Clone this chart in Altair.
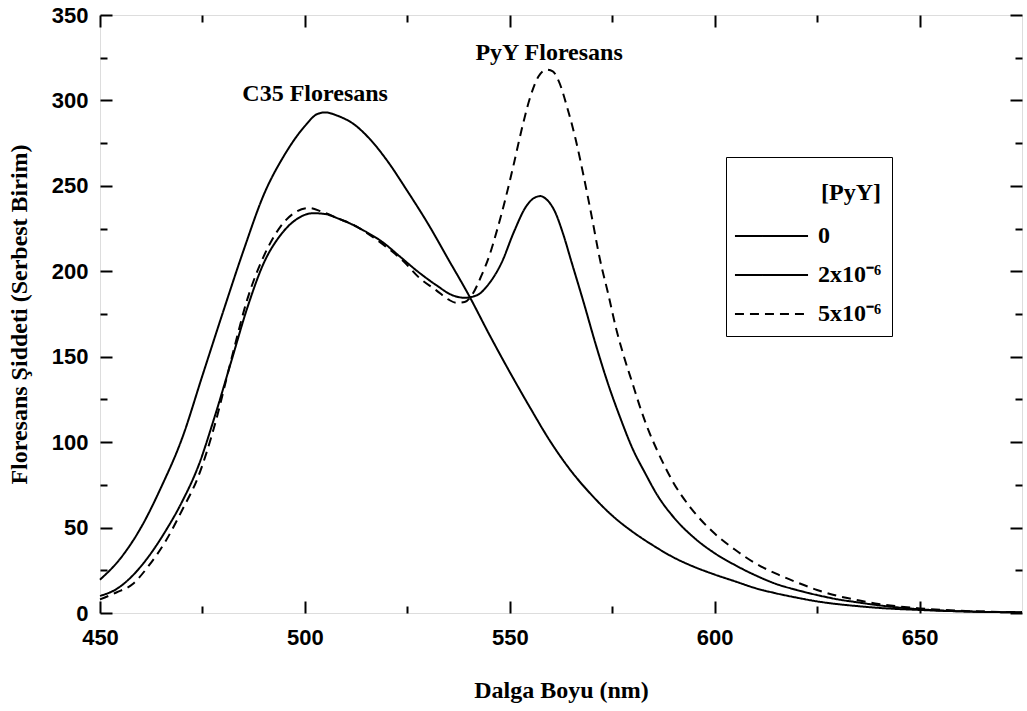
import altair as alt
import pandas as pd

# ---- data ----
nm_0 = [450, 455, 460, 465, 470, 475, 480, 485, 490, 495, 500, 503, 505, 508, 512, 516,
        520, 525, 530, 535, 540, 545, 550, 555, 560, 565, 570, 575, 580, 585, 590, 595,
        600, 605, 610, 615, 620, 625, 630, 635, 640, 645, 650, 655, 660, 665, 670, 675]
val_0 = [19.5, 32, 50, 74, 102, 139, 176, 212, 245, 268, 285, 292, 293, 291, 286, 277,
         265, 247, 228, 207, 186, 163, 141, 120, 100, 83, 69, 57, 47.5, 39.5, 32.5, 27,
         22.5, 18.5, 14.5, 11.5, 9, 6.8, 5.2, 4, 3, 2.3, 1.8, 1.3, 1, 0.7, 0.5, 0.4]

nm_2 = [450, 454, 458, 462, 466, 470, 474, 478, 482, 486, 490, 494, 498, 502, 505, 508,
        511, 515, 519, 523, 528, 532, 536, 539, 542, 545, 548, 551, 554, 556, 557.5, 559,
        561, 563, 565, 568, 571, 574, 577, 580, 583, 586, 590, 595, 600, 605, 610, 615,
        620, 625, 630, 635, 640, 645, 650, 655, 660, 665, 670, 675]
val_2 = [10, 14, 22, 33.5, 48, 65, 86, 115, 147, 179, 205, 221, 230.5, 234, 233.5, 231,
         228, 223, 217, 209, 199, 192, 186, 184.5, 186, 193, 205, 223, 238, 243, 244, 242,
         235, 222, 206, 182, 157, 134, 114, 96, 82, 69, 56, 44, 35, 28, 22, 17,
         13.5, 10.5, 8, 6.2, 4.5, 3.2, 2.2, 1.5, 1, 0.7, 0.5, 0.3]

nm_5 = [450, 454, 458, 462, 466, 470, 474, 478, 482, 486, 490, 494, 498, 501, 504, 508,
        512, 516, 520, 524, 528, 532, 535, 537, 539, 541, 543, 545, 547, 549, 551, 553,
        555, 557, 559, 560.5, 562, 564, 566, 568, 570, 572, 574, 576, 578, 580, 582, 584,
        586, 588, 590, 594, 600, 605, 610, 615, 620, 625, 630, 635, 640, 645, 650, 655,
        660, 665, 670, 675]
val_5 = [8, 12, 17, 28, 42, 60, 80, 110, 148, 184, 209, 226, 235, 237, 235, 231,
         227, 221, 214, 206, 196, 189, 183.5, 181.5, 182, 187, 197, 209, 225, 243, 263, 284,
         302, 314, 318, 317, 311, 296, 278, 256, 232, 207, 187, 166, 149, 134, 119, 106,
         95, 85, 76, 62, 46.5, 37, 29, 23, 18, 13.5, 10, 7.5, 5.3, 3.8, 2.7, 1.9,
         1.3, 0.9, 0.6, 0.5]

series_names = ["0", "2x10\u207b\u2076", "5x10\u207b\u2076"]

ann_text = ["C35 Floresans", "PyY Floresans"]
ann_nm = [502.5, 559.6]
ann_val = [304, 327.5]

x_major = [450, 500, 550, 600, 650]
x_minor = [475, 525, 575, 625]
y_major = [0, 50, 100, 150, 200, 250, 300, 350]
y_minor = [25, 75, 125, 175, 225, 275, 325]

rows = []
for name, xs_, ys_ in zip(series_names, [nm_0, nm_2, nm_5], [val_0, val_2, val_5]):
    for xv, yv in zip(xs_, ys_):
        rows.append({"series": name, "nm": xv, "val": yv})
df = pd.DataFrame(rows)
ann = pd.DataFrame({"nm": ann_nm, "val": ann_val, "label": ann_text})

xs = alt.Scale(domain=[450, 675], nice=False, zero=False)
ys = alt.Scale(domain=[0, 350], nice=False, zero=False)

SANS = "Liberation Sans"
SERIF = "Liberation Serif"

def tick_axis(orient, values, size, labels=False, **kw):
    return alt.Axis(orient=orient, values=values, offset=-size, tickSize=size,
                    tickWidth=2, tickColor="black", domain=False, grid=False,
                    labels=labels, **kw)

x_bottom = tick_axis("bottom", x_major, 12, labels=True, labelFlush=False,
                     labelOverlap=False, labelPadding=14, labelFont=SANS,
                     labelFontWeight="bold", labelFontSize=22, labelColor="black",
                     title="Dalga Boyu (nm)", titleFont=SERIF, titleFontWeight="bold",
                     titleFontSize=24, titleColor="black", titlePadding=30)
y_left = tick_axis("left", y_major, 12, labels=True, labelFlush=False,
                   labelOverlap=False, labelPadding=12, labelFont=SANS,
                   labelFontWeight="bold", labelFontSize=22, labelColor="black",
                   title="Floresans \u015eiddeti (Serbest Birim)", titleFont=SERIF,
                   titleFontWeight="bold", titleFontSize=24, titleColor="black",
                   titlePadding=20)

legend = alt.Legend(
    title=["", "[PyY]"], titleLineHeight=14, titleFont=SERIF, titleFontSize=24,
    titleFontWeight="bold", titleColor="black", titleAnchor="end", titlePadding=18,
    labelFont=SERIF, labelFontSize=24, labelFontWeight="bold", labelColor="black",
    labelOffset=56, symbolType="M-1.17,0H4.92", symbolSize=576,
    symbolStrokeColor="black", symbolStrokeWidth=2, rowPadding=14,
    orient="none", legendX=626, legendY=142, padding=10, strokeColor="black",
)

lines = alt.Chart(df).mark_line(color="black", strokeWidth=2,
                                interpolate="monotone").encode(
    x=alt.X("nm:Q", scale=xs, axis=x_bottom),
    y=alt.Y("val:Q", scale=ys, axis=y_left),
    strokeDash=alt.StrokeDash("series:N",
                              scale=alt.Scale(domain=series_names,
                                              range=[[1, 0], [1, 0], [9, 6]]),
                              legend=legend),
)

labels_layer = alt.Chart(ann).mark_text(font=SERIF, fontSize=24, fontWeight="bold",
                                        color="black", baseline="middle").encode(
    x=alt.X("nm:Q", scale=xs, axis=tick_axis("top", x_major, 12, title=None)),
    y=alt.Y("val:Q", scale=ys, axis=tick_axis("right", y_major, 12, title=None)),
    text="label:N",
)

minor1 = alt.Chart(ann).mark_point(opacity=0).encode(
    x=alt.X("nm:Q", scale=xs, axis=tick_axis("bottom", x_minor, 7, title=None)),
    y=alt.Y("val:Q", scale=ys, axis=tick_axis("left", y_minor, 7, title=None)),
)
minor2 = alt.Chart(ann).mark_point(opacity=0).encode(
    x=alt.X("nm:Q", scale=xs, axis=tick_axis("top", x_minor, 7, title=None)),
    y=alt.Y("val:Q", scale=ys, axis=tick_axis("right", y_minor, 7, title=None)),
)

chart = alt.layer(lines, labels_layer, minor1, minor2).resolve_axis(
    x="independent", y="independent"
).properties(
    width=922, height=598,
    padding={"left": 100, "top": 15, "right": 5, "bottom": 98},
    autosize=alt.AutoSizeParams(type="none"),
).configure_view(stroke="black", strokeWidth=2).configure(background="white")

chart.save("out.html", embed_options={"renderer": "svg", "actions": False})
